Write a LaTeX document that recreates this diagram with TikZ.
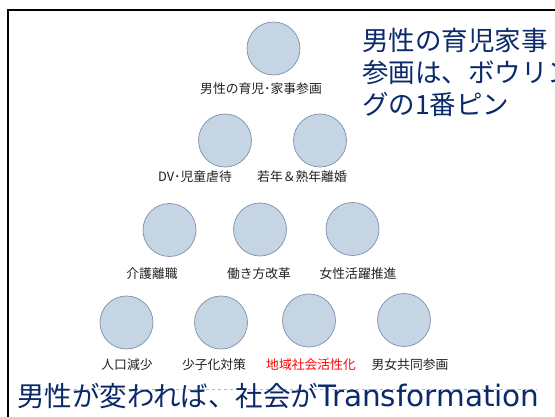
\documentclass[tikz,border=0pt]{standalone}
\usepackage{fontspec}
\newfontfamily\jpfont{Noto Sans CJK JP}
\newfontfamily\latfont{DejaVu Sans}
\definecolor{pinfill}{HTML}{C5D5E3}
\definecolor{pinedge}{HTML}{8090AA}
\definecolor{navy}{HTML}{0B2A6B}
\definecolor{labgray}{HTML}{222222}
\definecolor{dashcol}{HTML}{A8BCD2}
\tikzset{
  pin/.style={circle, draw=pinedge, fill=pinfill, line width=0.7pt, minimum size=53pt, inner sep=0pt},
  pinlabel/.style={font=\jpfont\fontsize{12.8}{14}\selectfont, text=labgray, inner sep=0pt},
}
\begin{document}
\begin{tikzpicture}[x=1pt,y=-1pt]
\useasboundingbox (0,0) rectangle (555,417);
\fill[white] (0,0) rectangle (555,417);
% frame
\coordinate (ftl) at (8,10);
\coordinate (ftr) at (555,10);
\coordinate (fbl) at (8,417);
\draw[line width=1.6pt] (fbl) -- (ftl) -- (ftr);
% pins
\node[pin] (p1) at (273.5,48.5) {};
\node[pin] (p2) at (225,140.5) {};
\node[pin] (p3) at (320,140.5) {};
\node[pin] (p4) at (169.5,230) {};
\node[pin] (p5) at (260,229.5) {};
\node[pin] (p6) at (352.5,229) {};
\node[pin] (p7) at (126.5,322.5) {};
\node[pin] (p8) at (221,322.5) {};
\node[pin] (p9) at (309,320.5) {};
\node[pin] (p10) at (404,320) {};
% labels
\node[pinlabel] (l1) at (261,89) {男性の育児･家事参画};
\node[pinlabel] (l2) at (195,177) {DV･児童虐待};
\node[pinlabel] (l3) at (302,177) {若年＆熟年離婚};
\node[pinlabel] (l4) at (152,274) {介護離職};
\node[pinlabel] (l5) at (259,274) {働き方改革};
\node[pinlabel] (l6) at (358,274) {女性活躍推進};
\node[pinlabel] (l7) at (127,365) {人口減少};
\node[pinlabel] (l8) at (214,365) {少子化対策};
\node[pinlabel, text=red] (l9) at (311,365) {地域社会活性化};
\node[pinlabel] (l10) at (410,365) {男女共同参画};
% title
\node[anchor=north west, align=left, text=navy, inner sep=0pt,
      font=\jpfont\fontsize{26.5}{32}\selectfont] (title) at (362,28)
  {男性の育児家事\\参画は、ボウリン\\グの1番ピン};
% bottom dashed line and text
\coordinate (dl) at (20,389);
\coordinate (dr) at (537,389);
\draw[dashcol, dashed, line width=0.5pt] (dl) -- (dr);
\node[anchor=west, text=navy, inner sep=0pt,
      font=\jpfont\fontsize{27.5}{30}\selectfont] (bottom) at (17,396)
  {男性が変われば、社会が{\latfont\fontsize{29.5}{30}\selectfont Transformation}};
\end{tikzpicture}
\end{document}
